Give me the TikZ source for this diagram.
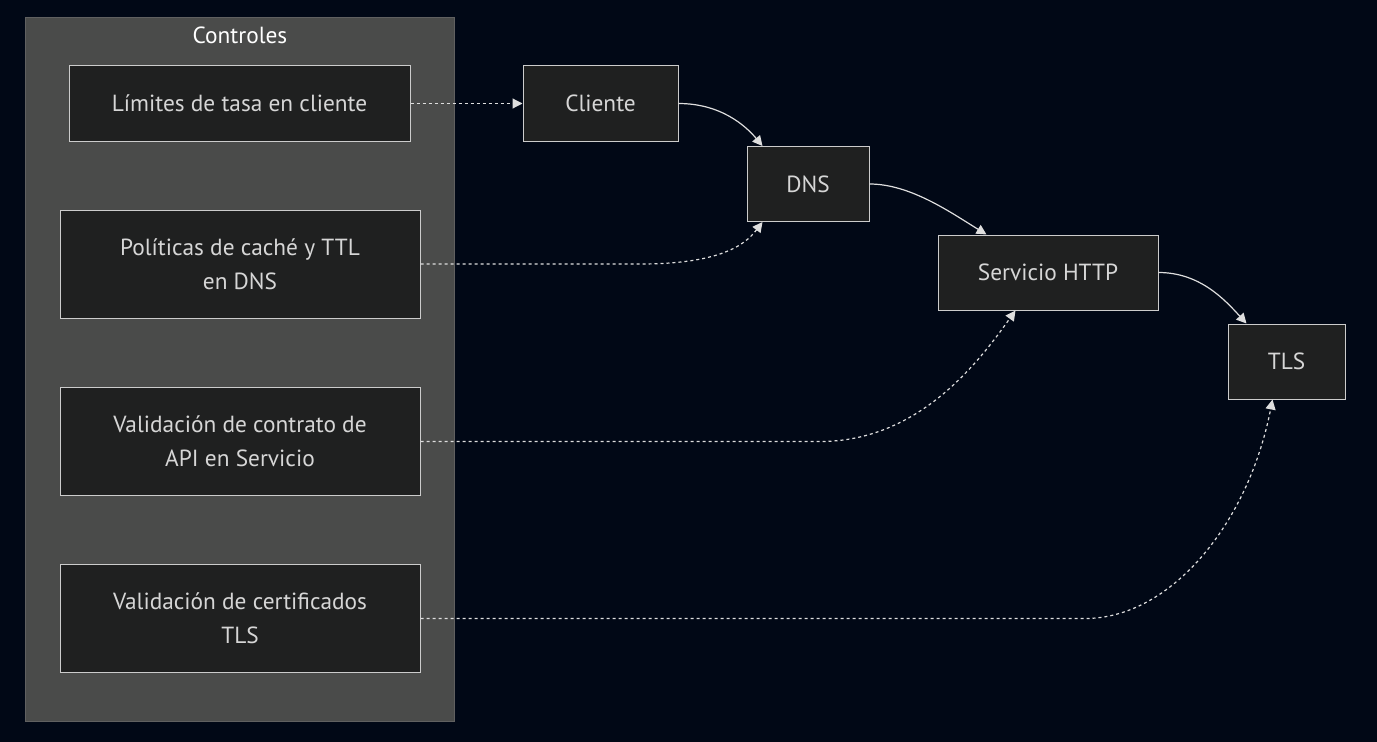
\documentclass[tikz,border=0pt]{standalone}
\usepackage{fontspec}
\setmainfont{PT Sans}
\usetikzlibrary{arrows.meta}

\definecolor{bgnavy}{RGB}{1,8,22}
\definecolor{clusterfill}{RGB}{74,75,74}
\definecolor{clusterline}{RGB}{96,96,96}
\definecolor{boxfill}{RGB}{31,32,32}
\definecolor{boxline}{RGB}{204,204,204}
\definecolor{boxtext}{RGB}{214,214,214}
\definecolor{edgeline}{RGB}{222,222,222}

\begin{document}
\begin{tikzpicture}[
    x=0.75pt, y=-0.75pt,
    cluster/.style={draw=clusterline, fill=clusterfill, line width=0.75pt, minimum width=321.75pt, minimum height=527.25pt},
    ctrl/.style={draw=boxline, fill=boxfill, text=boxtext, line width=0.75pt, minimum width=270pt, minimum height=81pt, align=center, font=\fontsize{17.5}{25.5}\selectfont},
    comp/.style={draw=boxline, fill=boxfill, text=boxtext, line width=0.75pt, minimum height=56.25pt, font=\fontsize{17.5}{21}\selectfont},
    flow/.style={-{Triangle[length=7.5pt, width=7.5pt]}, draw=edgeline, line width=0.9pt},
    guard/.style={flow, dash pattern=on 2.25pt off 2.25pt}
]

% Background
\fill[bgnavy] (0,0) rectangle (1377,742);
\useasboundingbox (0,0) rectangle (1377,742);

% Controls cluster
\node[cluster] (controles) at (239.5,369.5) {};
\node[text=white, font=\fontsize{17.5}{21}\selectfont] (titulo) at (240,35) {Controles};

% Controls
\node[ctrl, minimum width=255.75pt, minimum height=56.25pt] (limites) at (239.5,103.5) {Límites de tasa en cliente};
\node[ctrl] (politicas) at (240,264) {Políticas de caché y TTL\\en DNS};
\node[ctrl] (contrato) at (240,441.5) {Validación de contrato de\\API en Servicio};
\node[ctrl] (certs) at (240,618.5) {Validación de certificados\\TLS};

% Components
\node[comp, minimum width=116.25pt] (cliente) at (600.5,103.5) {Cliente};
\node[comp, minimum width=91.5pt] (dns) at (808,184) {DNS};
\node[comp, minimum width=165pt] (servicio) at (1048,272.5) {Servicio HTTP};
\node[comp, minimum width=87.75pt] (tls) at (1286.5,361.5) {TLS};

% Main chain
\draw[flow] (cliente.east) .. controls (720,103.5) and (745,125) .. ([xshift=12pt]dns.north west);
\draw[flow] (dns.east) .. controls (910,184) and (950,212) .. ([xshift=36.75pt]servicio.north west);
\draw[flow] (servicio.east) .. controls (1200,272.5) and (1225,300) .. ([xshift=14.25pt]tls.north west);

% Control relations
\draw[guard] (limites.east) -- (cliente.west);
\draw[guard] (politicas.east) -- (640,264) .. controls (720,264) and (745,245) .. ([xshift=12pt]dns.south west);
\draw[guard] (contrato.east) -- (820,441.5) .. controls (920,441.5) and (980,360) .. ([xshift=58.5pt]servicio.south west);
\draw[guard] (certs.east) -- (1085,618.5) .. controls (1170,618.5) and (1248,525) .. ([xshift=33.75pt]tls.south west);

\end{tikzpicture}
\end{document}
